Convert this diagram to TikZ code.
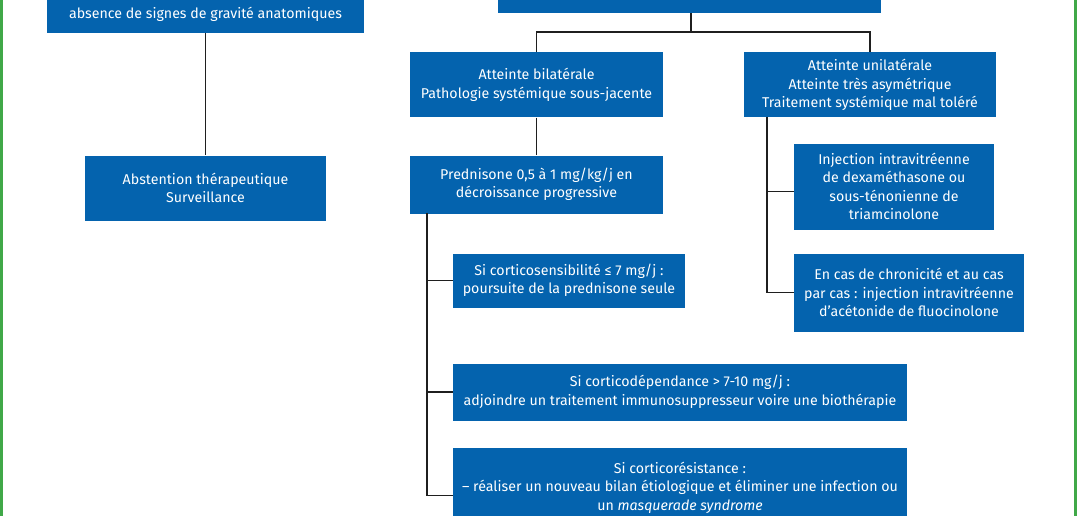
\documentclass[tikz,border=0pt]{standalone}
\usepackage{fontspec}
\setmainfont{Fira Sans}
\usetikzlibrary{calc}
\definecolor{boxblue}{RGB}{4,99,174}
\definecolor{framegreen}{RGB}{64,168,72}
\tikzset{
  box/.style={fill=boxblue, text=white, align=center, inner sep=0pt,
    font=\fontsize{14.2}{18.5}\selectfont},
  link/.style={draw=black!88, line width=1.5pt},
  frameline/.style={fill=framegreen},
}
\begin{document}
\begin{tikzpicture}[x=1pt,y=-1pt]
\useasboundingbox (0,0) rectangle (1078,516);
\clip (0,0) rectangle (1078,516);
\fill[frameline] (0,0) rectangle (3,516);
\fill[frameline] (1074,0) rectangle (1077,516);

\node[box, minimum width=317pt, minimum height=38pt] (A) at (205.5,14) {absence de signes de gravité anatomiques};
\node[box, minimum width=383pt, minimum height=26pt] (B) at (689.5,0) {};
\node[box, minimum width=241pt, minimum height=65pt] (C) at (205.5,188) {Abstention thérapeutique\\Surveillance};
\node[box, minimum width=253pt, minimum height=65pt] (D) at (536.5,85) {Atteinte bilatérale\\Pathologie systémique sous-jacente};
\node[box, minimum width=252pt, minimum height=65pt] (E) at (870,85) {Atteinte unilatérale\\Atteinte très asymétrique\\Traitement systémique mal toléré};
\node[box, minimum width=253pt, minimum height=58pt] (F) at (536.5,184.5) {Prednisone 0,5 à 1 mg/kg/j en\\décroissance progressive};
\node[box, minimum width=200pt, minimum height=86pt] (G) at (894,186.5) {Injection intravitréenne\\de dexaméthasone ou\\sous-ténonienne de\\triamcinolone};
\node[box, minimum width=230pt, minimum height=78pt] (H) at (909,292.5) {En cas de chronicité et au cas\\par cas : injection intravitréenne\\d’acétonide de fluocinolone};
\node[box, minimum width=232pt, minimum height=54pt] (I) at (569,280.5) {Si corticosensibilité ≤ 7 mg/j :\\poursuite de la prednisone seule};
\node[box, minimum width=454pt, minimum height=57pt] (J) at (680,392) {Si corticodépendance > 7-10 mg/j :\\adjoindre un traitement immunosuppresseur voire une biothérapie};
\node[box, minimum width=454pt, minimum height=80pt] (K) at (680,487.5) {Si corticorésistance :\\– réaliser un nouveau bilan étiologique et éliminer une infection ou\\un \textit{masquerade syndrome}};

\coordinate (split) at (691,32);
\coordinate (ltop) at (427,213);
\coordinate (rtop) at (767,117);

\draw[link] (A.south) -- (C.north);
\draw[link] (B.south -| split) -- (split);
\draw[link] (D.north) |- (split) -| (E.north);
\draw[link] (D.south) -- (F.north);
\draw[link] (ltop) |- (I.west);
\draw[link] (ltop) |- (J.west);
\draw[link] (ltop) |- ($(K.west)+(0,8)$);
\draw[link] (rtop) |- ($(G.west)+(0,5)$);
\draw[link] (rtop) |- (H.west);
\end{tikzpicture}
\end{document}
